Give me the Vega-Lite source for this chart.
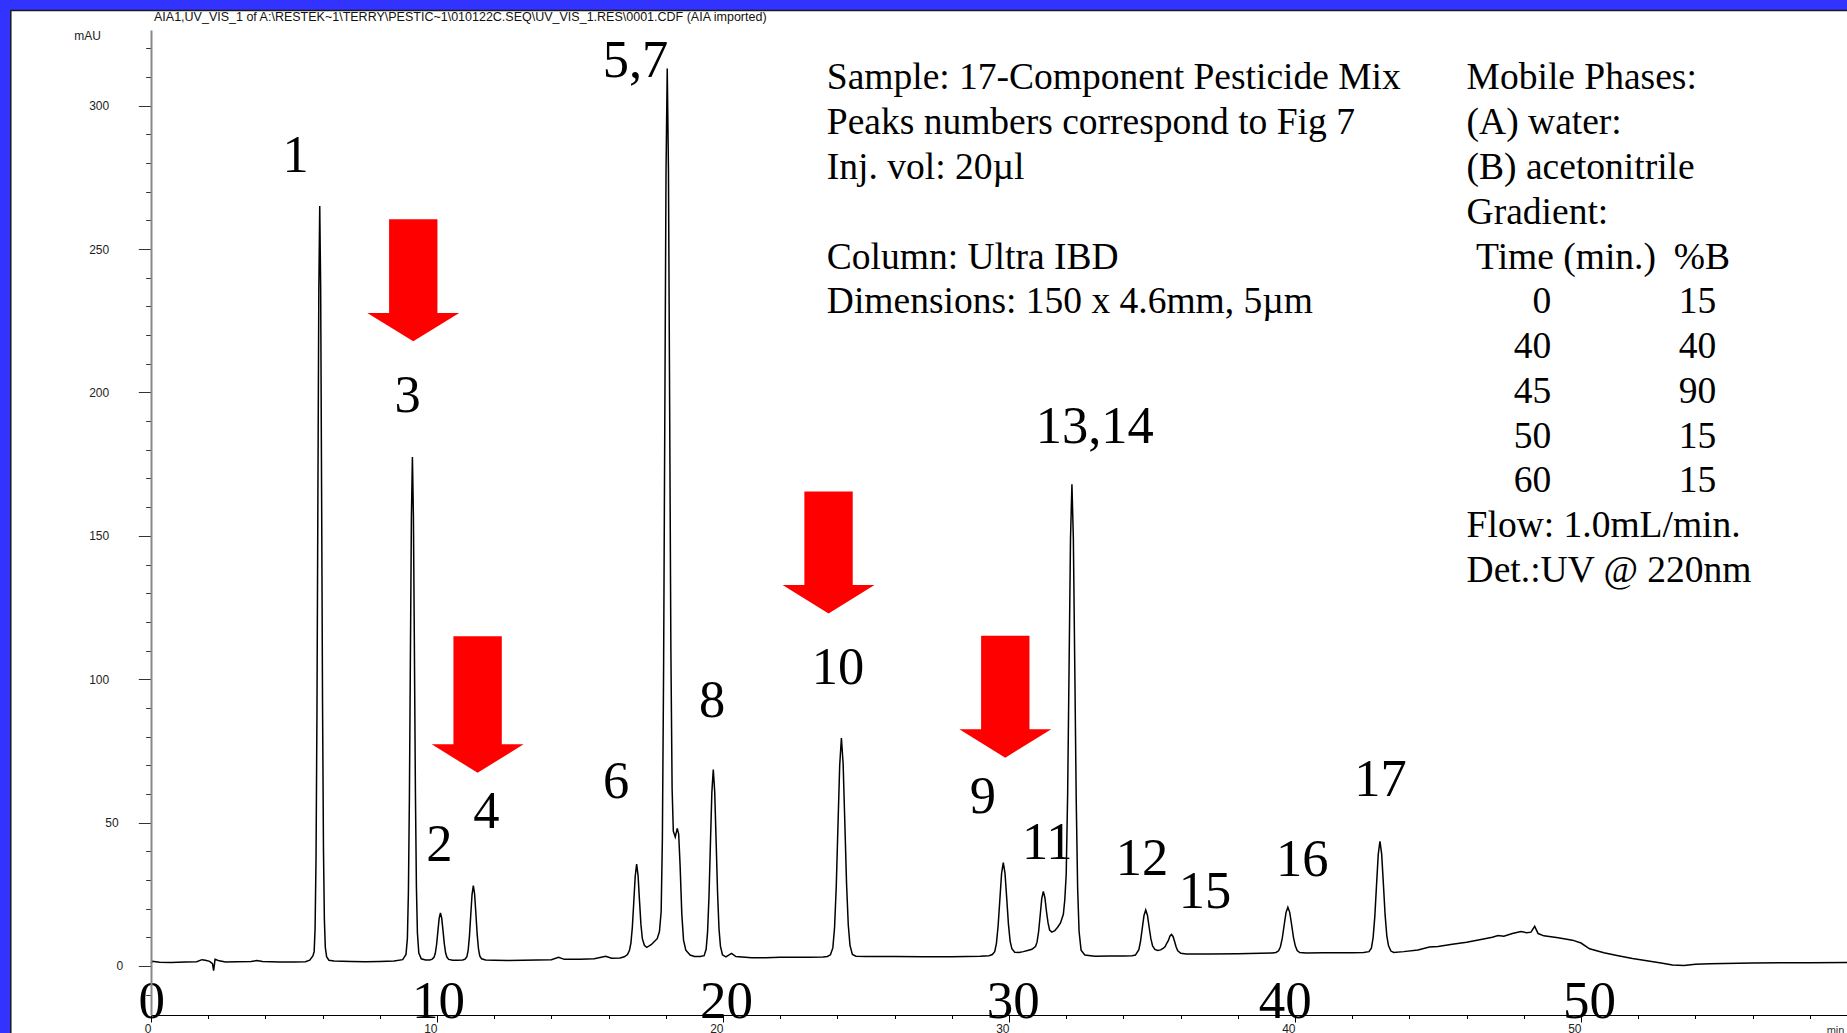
{
  "$schema": "https://vega.github.io/schema/vega-lite/v6.json",
  "autosize": {"type": "none"},
  "padding": {"left": 151, "top": 30, "right": 0, "bottom": 18},
  "width": 1696,
  "height": 985,
  "background": "#3333ff",
  "config": {"view": {"stroke": null}, "font": "Liberation Sans"},
  "resolve": {"axis": {"y": "independent"}},
  "datasets": {
    "trace": [
      {"t":0.00,"v":0.9},{"t":0.05,"v":1.6},{"t":0.3,"v":1.3},{"t":0.7,"v":1.2},{"t":1.2,"v":1.4},{"t":1.6,"v":1.5},{"t":1.78,"v":2.2},{"t":1.9,"v":2.0},{"t":2.05,"v":1.6},{"t":2.15,"v":0.8},{"t":2.19,"v":-1.6},{"t":2.24,"v":2.3},{"t":2.35,"v":1.9},{"t":2.6,"v":1.4},{"t":3.0,"v":1.5},{"t":3.5,"v":1.6},{"t":3.7,"v":1.9},{"t":3.9,"v":1.6},{"t":4.5,"v":1.4},{"t":5.0,"v":1.4},{"t":5.4,"v":1.5},{"t":5.55,"v":2.0},
      {"t":5.66,"v":3.5},{"t":5.705,"v":5.0},{"t":5.7375,"v":13.2},{"t":5.77,"v":37.3},{"t":5.8025,"v":87.6},{"t":5.835,"v":162.4},{"t":5.8675,"v":235.2},{"t":5.90,"v":265},{"t":5.9325,"v":236},{"t":5.965,"v":165},{"t":5.9975,"v":92},{"t":6.03,"v":41},{"t":6.0625,"v":16},{"t":6.095,"v":6.5},{"t":6.14,"v":3.2},{"t":6.22,"v":2.0},{"t":6.4,"v":1.7},{"t":7.0,"v":1.6},{"t":7.5,"v":1.5},{"t":8.0,"v":1.6},{"t":8.5,"v":1.7},{"t":8.8,"v":2.2},{"t":8.85,"v":3.0},
      {"t":8.916,"v":4.0},{"t":8.965,"v":9.7},{"t":9.00,"v":25.6},{"t":9.035,"v":58.9},{"t":9.07,"v":108.2},{"t":9.105,"v":156.4},{"t":9.14,"v":177.5},{"t":9.175,"v":157},{"t":9.21,"v":110},{"t":9.245,"v":61},{"t":9.28,"v":27.5},{"t":9.315,"v":11.5},{"t":9.364,"v":4.5},{"t":9.45,"v":2.5},{"t":9.6,"v":2.1},
      {"t":9.75,"v":2.1},{"t":9.832,"v":2.4},{"t":9.895,"v":3.0},{"t":9.94,"v":4.4},{"t":9.985,"v":7.4},{"t":10.03,"v":12.0},{"t":10.075,"v":16.6},{"t":10.12,"v":18.5},{"t":10.165,"v":16.7},{"t":10.21,"v":12.3},{"t":10.255,"v":7.8},{"t":10.30,"v":4.6},{"t":10.345,"v":3.1},{"t":10.408,"v":2.3},{"t":10.55,"v":2.0},{"t":10.7,"v":2.0},
      {"t":10.9,"v":2.1},{"t":10.982,"v":2.4},{"t":11.045,"v":3.2},{"t":11.09,"v":5.5},{"t":11.135,"v":10.5},{"t":11.18,"v":17.8},{"t":11.225,"v":24.9},{"t":11.27,"v":28},{"t":11.315,"v":25.1},{"t":11.36,"v":18.2},{"t":11.405,"v":11.0},{"t":11.45,"v":6.0},{"t":11.495,"v":3.5},{"t":11.558,"v":2.5},{"t":11.7,"v":2.1},{"t":12.0,"v":2.0},{"t":12.5,"v":1.9},{"t":13.0,"v":2.0},{"t":13.5,"v":2.1},{"t":14.0,"v":2.2},{"t":14.25,"v":3.0},{"t":14.45,"v":2.3},{"t":15.0,"v":2.3},{"t":15.5,"v":2.5},{"t":15.9,"v":3.4},{"t":16.1,"v":2.7},{"t":16.4,"v":2.8},{"t":16.55,"v":3.2},
      {"t":16.66,"v":4.0},{"t":16.73,"v":5.5},{"t":16.78,"v":8.0},{"t":16.83,"v":13.5},{"t":16.88,"v":22.2},{"t":16.93,"v":31.2},{"t":16.98,"v":35.5},{"t":17.03,"v":31.6},{"t":17.08,"v":22.8},{"t":17.13,"v":14.5},{"t":17.18,"v":9.5},{"t":17.25,"v":7.2},{"t":17.33,"v":6.5},{"t":17.42,"v":7.0},{"t":17.5,"v":7.5},{"t":17.6,"v":8.5},{"t":17.7,"v":9.5},
      {"t":17.778,"v":12},{"t":17.8375,"v":19},{"t":17.88,"v":44},{"t":17.9225,"v":103},{"t":17.965,"v":191},{"t":18.0075,"v":277},{"t":18.05,"v":313},{"t":18.0925,"v":278},{"t":18.135,"v":194},{"t":18.1775,"v":110},{"t":18.22,"v":62},{"t":18.2625,"v":47},{"t":18.33,"v":45},{"t":18.4,"v":48},{"t":18.45,"v":46},{"t":18.5,"v":35},{"t":18.56,"v":18},{"t":18.62,"v":9},{"t":18.7,"v":5.5},{"t":18.85,"v":3.8},{"t":19.0,"v":3.3},{"t":19.2,"v":3.3},
      {"t":19.34,"v":3.6},{"t":19.41,"v":5.8},{"t":19.46,"v":11.8},{"t":19.51,"v":24.2},{"t":19.56,"v":42.6},{"t":19.61,"v":60.5},{"t":19.66,"v":68.5},{"t":19.71,"v":60.7},{"t":19.76,"v":43.3},{"t":19.81,"v":25.5},{"t":19.86,"v":13},{"t":19.91,"v":6.9},{"t":19.98,"v":3.9},{"t":20.1,"v":3.2},{"t":20.3,"v":4.4},{"t":20.45,"v":3.3},{"t":21.0,"v":2.9},{"t":21.5,"v":2.9},{"t":22.0,"v":3.0},{"t":22.5,"v":3.0},{"t":23.0,"v":3.0},{"t":23.5,"v":3.1},{"t":23.65,"v":3.3},
      {"t":23.756,"v":3.9},{"t":23.84,"v":6.3},{"t":23.90,"v":13.3},{"t":23.96,"v":27.7},{"t":24.02,"v":49.1},{"t":24.08,"v":70},{"t":24.14,"v":79.5},{"t":24.20,"v":70.5},{"t":24.26,"v":49.8},{"t":24.32,"v":28.6},{"t":24.38,"v":14.3},{"t":24.44,"v":7.2},{"t":24.524,"v":4.0},{"t":24.65,"v":3.4},{"t":25.0,"v":3.3},{"t":25.5,"v":3.3},{"t":26.0,"v":3.3},{"t":27.0,"v":3.2},{"t":28.0,"v":3.2},{"t":28.5,"v":3.3},{"t":29.0,"v":3.4},{"t":29.3,"v":3.6},
      {"t":29.416,"v":4.0},{"t":29.50,"v":5.0},{"t":29.56,"v":7.9},{"t":29.62,"v":14.1},{"t":29.68,"v":23.2},{"t":29.74,"v":32.2},{"t":29.80,"v":36},{"t":29.86,"v":32.3},{"t":29.92,"v":23.6},{"t":29.98,"v":14.6},{"t":30.04,"v":8.6},{"t":30.10,"v":6.0},{"t":30.2,"v":4.8},{"t":30.35,"v":4.7},{"t":30.5,"v":5.0},{"t":30.65,"v":5.4},{"t":30.8,"v":5.8},
      {"t":30.925,"v":6.8},{"t":30.98,"v":8.3},{"t":31.035,"v":12.0},{"t":31.09,"v":17.7},{"t":31.145,"v":23.5},{"t":31.2,"v":26},{"t":31.255,"v":23.8},{"t":31.31,"v":19},{"t":31.365,"v":15},{"t":31.42,"v":12.5},{"t":31.5,"v":11.8},{"t":31.6,"v":12.3},{"t":31.7,"v":13.5},{"t":31.8,"v":15},{"t":31.9,"v":18},{"t":31.95,"v":23},
      {"t":32.0,"v":32},{"t":32.05,"v":60},{"t":32.1,"v":104},{"t":32.15,"v":149},{"t":32.2,"v":168},{"t":32.25,"v":149},{"t":32.3,"v":104},{"t":32.35,"v":58},{"t":32.4,"v":27},{"t":32.45,"v":12},{"t":32.52,"v":5.5},{"t":32.65,"v":3.8},{"t":33.0,"v":3.4},{"t":33.5,"v":3.5},{"t":34.0,"v":3.5},{"t":34.3,"v":3.6},
      {"t":34.42,"v":3.8},{"t":34.54,"v":5.7},{"t":34.60,"v":8.7},{"t":34.66,"v":13.2},{"t":34.72,"v":17.6},{"t":34.78,"v":19.5},{"t":34.84,"v":17.7},{"t":34.90,"v":13.5},{"t":34.96,"v":9.5},{"t":35.02,"v":7.0},{"t":35.1,"v":5.8},{"t":35.2,"v":5.4},{"t":35.3,"v":5.6},{"t":35.4,"v":6.2},
      {"t":35.46,"v":6.8},{"t":35.52,"v":8.0},{"t":35.57,"v":8.8},{"t":35.625,"v":10.4},{"t":35.68,"v":11},{"t":35.735,"v":10.3},{"t":35.79,"v":8.5},{"t":35.845,"v":6.6},{"t":35.90,"v":5.3},{"t":36.01,"v":4.4},{"t":36.2,"v":4.2},{"t":37.0,"v":4.2},{"t":38.0,"v":4.3},{"t":38.8,"v":4.4},{"t":39.2,"v":4.5},
      {"t":39.334,"v":4.7},{"t":39.425,"v":5.3},{"t":39.49,"v":6.7},{"t":39.555,"v":9.7},{"t":39.62,"v":14.2},{"t":39.685,"v":18.6},{"t":39.75,"v":20.5},{"t":39.815,"v":18.7},{"t":39.88,"v":14.5},{"t":39.945,"v":10},{"t":40.01,"v":7.0},{"t":40.075,"v":5.4},{"t":40.166,"v":4.7},{"t":40.4,"v":4.5},{"t":41.0,"v":4.6},{"t":41.5,"v":4.6},{"t":42.0,"v":4.6},{"t":42.4,"v":4.7},
      {"t":42.586,"v":5.0},{"t":42.67,"v":6.2},{"t":42.73,"v":9.8},{"t":42.79,"v":17.2},{"t":42.85,"v":28.2},{"t":42.91,"v":38.9},{"t":42.97,"v":43.5},{"t":43.03,"v":39},{"t":43.09,"v":28.6},{"t":43.15,"v":17.8},{"t":43.21,"v":10.5},{"t":43.27,"v":7.0},{"t":43.354,"v":5.2},{"t":43.45,"v":4.7},
      {"t":43.8,"v":5.0},{"t":44.3,"v":5.6},{"t":44.7,"v":6.6},{"t":45.0,"v":6.8},{"t":45.5,"v":7.6},{"t":46.0,"v":8.3},{"t":46.5,"v":9.2},{"t":46.9,"v":10.0},{"t":47.1,"v":10.6},{"t":47.3,"v":10.4},{"t":47.6,"v":11.3},{"t":47.9,"v":12.0},{"t":48.1,"v":11.6},{"t":48.25,"v":11.8},{"t":48.38,"v":13.8},{"t":48.5,"v":11.3},{"t":48.7,"v":10.5},{"t":49.2,"v":9.8},{"t":49.7,"v":9.0},{"t":50.0,"v":8.0},{"t":50.3,"v":6.0},{"t":50.8,"v":4.6},{"t":51.3,"v":3.6},{"t":51.8,"v":2.6},{"t":52.3,"v":1.8},{"t":52.8,"v":1.0},{"t":53.2,"v":0.3},{"t":53.6,"v":0.2},{"t":54.0,"v":0.6},{"t":54.5,"v":0.8},{"t":55.0,"v":0.9},{"t":56.0,"v":1.0},{"t":57.0,"v":1.1},{"t":58.0,"v":1.1},{"t":59.3,"v":1.2}
    ],
    "peaks": [
      {"lab":"1","t":5.06,"v":277.0},{"lab":"3","t":8.97,"v":193.3},{"lab":"2","t":10.08,"v":36.6},{"lab":"4","t":11.73,"v":48.1},
      {"lab":"6","t":16.26,"v":58.7},{"lab":"5,7","t":16.94,"v":310.1},{"lab":"8","t":19.62,"v":86.7},{"lab":"10","t":24.02,"v":98.2},
      {"lab":"9","t":29.09,"v":53.4},{"lab":"11","t":31.34,"v":37.4},{"lab":"13,14","t":33.0,"v":182.4},{"lab":"12","t":34.65,"v":31.6},
      {"lab":"15","t":36.85,"v":20.1},{"lab":"16","t":40.25,"v":31.2},{"lab":"17","t":42.99,"v":59.1}
    ],
    "bignums": [
      {"lab":"0","t":0.03,"v":-18.1},{"lab":"10","t":10.05,"v":-18.1},{"lab":"20","t":20.12,"v":-18.1},
      {"lab":"30","t":30.15,"v":-18.1},{"lab":"40","t":39.66,"v":-18.1},{"lab":"50","t":50.3,"v":-18.1}
    ],
    "header": [
      {"lab":"AIA1,UV_VIS_1 of A:\\RESTEK~1\\TERRY\\PESTIC~1\\010122C.SEQ\\UV_VIS_1.RES\\0001.CDF (AIA imported)","t":0.105,"v":329.4}
    ],
    "notes": [
      {"lab":"Sample: 17-Component Pesticide Mix","t":23.63,"v":305.7},
      {"lab":"Peaks numbers correspond to Fig 7","t":23.63,"v":290.1},
      {"lab":"Inj. vol: 20µl","t":23.63,"v":274.5},
      {"lab":"Column: Ultra IBD","t":23.63,"v":243.2},
      {"lab":"Dimensions: 150 x 4.6mm, 5µm","t":23.63,"v":227.6},
      {"lab":"Mobile Phases:","t":46.0,"v":305.7},
      {"lab":"(A) water:","t":46.0,"v":290.1},
      {"lab":"(B) acetonitrile","t":46.0,"v":274.5},
      {"lab":"Gradient:","t":46.0,"v":258.9},
      {"lab":"Time (min.)","t":46.33,"v":243.2},
      {"lab":"%B","t":53.24,"v":243.2},
      {"lab":"Flow: 1.0mL/min.","t":46.0,"v":149.6},
      {"lab":"Det.:UV @ 220nm","t":46.0,"v":134.0}
    ],
    "table": [
      {"lab":"0","t":48.96,"v":227.6},{"lab":"15","t":54.73,"v":227.6},
      {"lab":"40","t":48.96,"v":212.0},{"lab":"40","t":54.73,"v":212.0},
      {"lab":"45","t":48.96,"v":196.4},{"lab":"90","t":54.73,"v":196.4},
      {"lab":"50","t":48.96,"v":180.8},{"lab":"15","t":54.73,"v":180.8},
      {"lab":"60","t":48.96,"v":165.2},{"lab":"15","t":54.73,"v":165.2}
    ],
    "arrows": [
      {"t":9.17,"v":239.1,"kind":"short"},{"t":11.42,"v":91.2,"kind":"long"},{"t":23.69,"v":144.2,"kind":"short"},{"t":29.87,"v":93.9,"kind":"short"}
    ]
  },
  "layer": [
    {
      "data": {"values": [{}]},
      "mark": {"type": "rect", "fill": "#ffffff", "stroke": "#1a1a1a", "strokeWidth": 1.5},
      "encoding": {
        "x": {"datum": -4.902, "type": "quantitative", "scale": {"domain": [0, 59.3], "nice": false, "zero": false}},
        "x2": {"datum": 62},
        "y": {
          "datum": 333.2, "type": "quantitative",
          "scale": {"domain": [-17.1, 326.4], "nice": false, "zero": false},
          "axis": {
            "zindex": 1, "orient": "left",
            "values": [-10,0,10,20,30,40,50,60,70,80,90,100,110,120,130,140,150,160,170,180,190,200,210,220,230,240,250,260,270,280,290,300,310,320],
            "tickSize": 5.3, "tickColor": "#333", "tickWidth": 1,
            "labels": false, "domain": false, "grid": false, "title": null
          }
        },
        "y2": {"datum": -30}
      }
    },
    {
      "data": {"name": "trace"},
      "mark": {"type": "line", "color": "#000000", "strokeWidth": 1.5, "interpolate": "linear"},
      "encoding": {
        "x": {
          "field": "t", "type": "quantitative",
          "scale": {"domain": [0, 59.3], "nice": false, "zero": false},
          "axis": {
            "zindex": 1,
            "values": [0,2,4,6,8,10,12,14,16,18,20,22,24,26,28,30,32,34,36,38,40,42,44,46,48,50,52,54,56,58],
            "labelExpr": "datum.value % 10 === 0 ? datum.label : ''",
            "tickSize": {"condition": {"test": "datum.value % 10 === 0", "value": 7}, "value": 3.5},
            "tickColor": "#000", "tickWidth": 1, "domainColor": "#000", "domainWidth": 1,
            "labelAlign": "right", "labelBaseline": "top", "labelPadding": 1.5, "labelFont": "Liberation Sans", "labelFontSize": 12, "labelColor": "#222",
            "labelOverlap": false, "labelFlush": false, "grid": false,
            "title": "min", "titleX": 1684, "titleY": 15, "titleAlign": "center", "titleBaseline": "middle",
            "titleFont": "Liberation Sans", "titleFontSize": 11, "titleFontWeight": "normal", "titleColor": "#333"
          }
        },
        "y": {
          "field": "v", "type": "quantitative",
          "scale": {"domain": [-17.1, 326.4], "nice": false, "zero": false},
          "axis": {
            "zindex": 1, "orient": "left",
            "values": [0,50,100,150,200,250,300],
            "tickSize": 12.7,
            "labelPadding": {"condition": [{"test": "datum.value >= 100", "value": 29.6}, {"test": "datum.value === 50", "value": 20.2}], "value": 15.5},
            "tickColor": "#333", "tickWidth": 1, "domainColor": "#888", "domainWidth": 2,
            "labelAlign": "right", "labelBaseline": "middle", "labelFont": "Liberation Sans", "labelFontSize": 12, "labelColor": "#222",
            "labelOverlap": false, "labelFlush": false, "grid": false,
            "title": "mAU", "titleAngle": 0, "titleX": -64, "titleY": 5, "titleAlign": "center", "titleBaseline": "middle",
            "titleFont": "Liberation Sans", "titleFontSize": 12, "titleFontWeight": "normal", "titleColor": "#222"
          }
        }
      }
    },
    {
      "data": {"name": "arrows"},
      "mark": {"type": "point", "size": 18660, "filled": true, "fill": "#ff0000", "opacity": 1, "strokeWidth": 0},
      "encoding": {
        "x": {"field": "t", "type": "quantitative"},
        "y": {"field": "v", "type": "quantitative", "axis": null},
        "shape": {
          "field": "kind", "type": "nominal", "legend": null,
          "scale": {
            "domain": ["short", "long"],
            "range": [
              "M -0.354 -0.893 L 0.354 -0.893 L 0.354 0.477 L 0.673 0.477 L 0 0.893 L -0.673 0.477 L -0.354 0.477 Z",
              "M -0.354 -1 L 0.354 -1 L 0.354 0.584 L 0.673 0.584 L 0 1 L -0.673 0.584 L -0.354 0.584 Z"
            ]
          }
        }
      }
    },
    {
      "data": {"name": "header"},
      "mark": {"type": "text", "font": "Liberation Sans", "fontSize": 12.5, "align": "left", "baseline": "alphabetic", "color": "#111"},
      "encoding": {
        "x": {"field": "t", "type": "quantitative"},
        "y": {"field": "v", "type": "quantitative", "axis": null},
        "text": {"field": "lab"}
      }
    },
    {
      "data": {"name": "peaks"},
      "mark": {"type": "text", "font": "Liberation Serif", "fontSize": 52.5, "align": "center", "baseline": "alphabetic", "color": "#000"},
      "encoding": {
        "x": {"field": "t", "type": "quantitative"},
        "y": {"field": "v", "type": "quantitative", "axis": null},
        "text": {"field": "lab"}
      }
    },
    {
      "data": {"name": "bignums"},
      "mark": {"type": "text", "font": "Liberation Serif", "fontSize": 53, "align": "center", "baseline": "alphabetic", "color": "#000"},
      "encoding": {
        "x": {"field": "t", "type": "quantitative"},
        "y": {"field": "v", "type": "quantitative", "axis": null},
        "text": {"field": "lab"}
      }
    },
    {
      "data": {"name": "notes"},
      "mark": {"type": "text", "font": "Liberation Serif", "fontSize": 37.5, "align": "left", "baseline": "alphabetic", "color": "#000"},
      "encoding": {
        "x": {"field": "t", "type": "quantitative"},
        "y": {"field": "v", "type": "quantitative", "axis": null},
        "text": {"field": "lab"}
      }
    },
    {
      "data": {"name": "table"},
      "mark": {"type": "text", "font": "Liberation Serif", "fontSize": 37.5, "align": "right", "baseline": "alphabetic", "color": "#000"},
      "encoding": {
        "x": {"field": "t", "type": "quantitative"},
        "y": {"field": "v", "type": "quantitative", "axis": null},
        "text": {"field": "lab"}
      }
    }
  ]
}
